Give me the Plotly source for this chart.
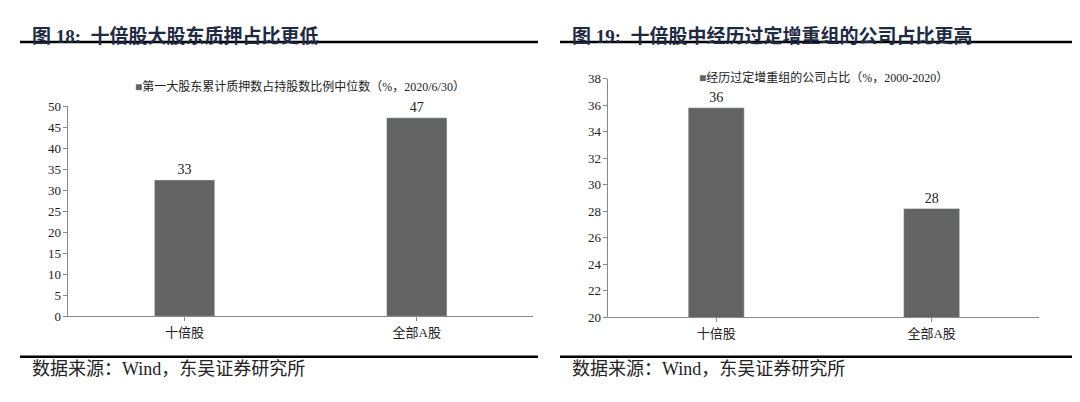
import plotly.graph_objects as go

cats = ['十倍股', '全部A股']
pledge = [32.5, 47.3]
pledge_lbl = ['33', '47']
restruct = [35.8, 28.2]
restruct_lbl = ['36', '28']

FONT = 'Liberation Serif, Noto Sans CJK SC'
BAR = '#636363'
NAVY = '#1f2a44'

fig = go.Figure()
fig.add_trace(go.Bar(x=cats, y=pledge, text=pledge_lbl, textposition='outside',
                     marker_color=BAR, xaxis='x', yaxis='y', cliponaxis=False,
                     textfont=dict(size=14, color='#222', family=FONT)))
fig.add_trace(go.Bar(x=cats, y=restruct, text=restruct_lbl, textposition='outside',
                     marker_color=BAR, xaxis='x2', yaxis='y2', cliponaxis=False,
                     textfont=dict(size=14, color='#222', family=FONT)))

ax = dict(showline=True, linecolor='#888', ticks='outside', ticklen=4, tickcolor='#888',
          showgrid=False, tickfont=dict(size=13, color='#222', family=FONT))

def py(y):
    # pixel row -> paper fraction
    return 1 - y / 402

fig.update_layout(
    width=1080, height=402, margin=dict(l=0, r=0, t=0, b=0),
    plot_bgcolor='white', paper_bgcolor='white', showlegend=False,
    font=dict(family=FONT), bargap=0.74,
    xaxis=dict(domain=[0.056, 0.486], anchor='y', **ax),
    yaxis=dict(domain=[py(313), py(95)], range=[0, 50], dtick=5, anchor='x', **ax),
    xaxis2=dict(domain=[0.556, 0.955], anchor='y2', **ax),
    yaxis2=dict(domain=[py(314), py(66)], range=[20, 38], dtick=2, anchor='x2', **ax),
)

shapes = []
for x0, x1 in [(12, 530), (552, 1068)]:
    for y in [28, 355]:
        shapes.append(dict(type='line', xref='paper', yref='paper', x0=x0 / 1080, x1=x1 / 1080,
                           y0=py(y), y1=py(y), line=dict(color='black', width=2.5)))
fig.update_layout(shapes=shapes)

def ann(text, x, y, size, color='#222', bold=False, anchor='left'):
    fig.add_annotation(text=f'<b>{text}</b>' if bold else text, x=x / 1080, y=py(y),
                       xref='paper', yref='paper', showarrow=False, xanchor=anchor,
                       font=dict(size=size, color=color, family=FONT))

ann('图 18:  十倍股大股东质押占比更低', 22, 8, 19, NAVY, True)
ann('图 19:  十倍股中经历过定增重组的公司占比更高', 562, 8, 19, NAVY, True)
ann('数据来源：Wind，东吴证券研究所', 22, 380, 18, '#222')
ann('数据来源：Wind，东吴证券研究所', 562, 380, 18, '#222')
ann('<span style="color:#636363">■</span>第一大股东累计质押数占持股数比例中位数（%，2020/6/30）', 292, 64, 12, anchor='center')
ann('<span style="color:#636363">■</span>经历过定增重组的公司占比（%，2000-2020）', 815, 55, 12, anchor='center')

fig.write_html('out.html')
